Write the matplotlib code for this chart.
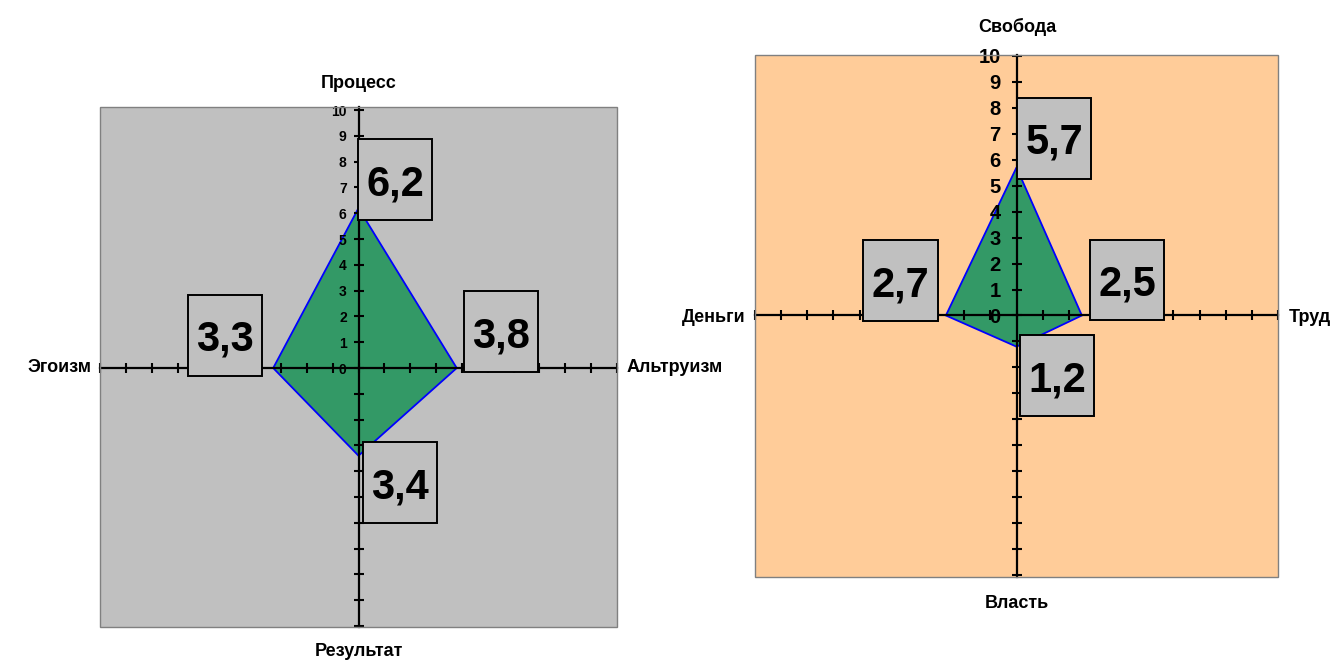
import matplotlib
matplotlib.use("Agg")
import matplotlib.pyplot as plt
from matplotlib.patches import Polygon, Rectangle
from matplotlib.ticker import FixedLocator, FixedFormatter

plt.rcParams['font.family'] = ['Liberation Sans', 'DejaVu Sans']

# ---- data ----
left_axes_names = ["Процесс", "Альтруизм", "Результат", "Эгоизм"]   # up, right, down, left
left_values = [6.2, 3.8, 3.4, 3.3]
left_labels = ["6,2", "3,8", "3,4", "3,3"]

right_axes_names = ["Свобода", "Труд", "Власть", "Деньги"]        # up, right, down, left
right_values = [5.7, 2.5, 1.2, 2.7]
right_labels = ["5,7", "2,5", "1,2", "2,7"]

tick_values = list(range(-10, 11))
tick_labels = [str(v) if v >= 0 else "" for v in tick_values]

W, H = 1344, 662
fig = plt.figure(figsize=(W / 100, H / 100), dpi=100)
fig.patch.set_facecolor("white")


def px_axes(x0, x1, ytop, ybot):
    return [x0 / W, (H - ybot) / H, (x1 - x0) / W, (ybot - ytop) / H]


def draw_chart(rect, ylim, bg, values, labels, names, label_offsets,
               tick_fs, tick_pad, title_pos, scale):
    ax = fig.add_axes(rect)
    ax.set_xlim(-10, 10)
    ax.set_ylim(*ylim)
    ax.set_facecolor(bg)
    for s in ["top", "right"]:
        ax.spines[s].set_visible(False)
    ax.spines["left"].set_position("zero")
    ax.spines["bottom"].set_position("zero")
    for s in ["left", "bottom"]:
        ax.spines[s].set_linewidth(1.6)
        ax.spines[s].set_color("black")
        ax.spines[s].set_zorder(3)
    ax.xaxis.set_zorder(3)
    ax.yaxis.set_zorder(3)
    # plot area border
    ax.add_patch(Rectangle((0, 0), 1, 1, transform=ax.transAxes, fill=False,
                           edgecolor="#808080", linewidth=1.0, zorder=4,
                           clip_on=False))
    ax.xaxis.set_major_locator(FixedLocator(tick_values))
    ax.xaxis.set_major_formatter(FixedFormatter([""] * len(tick_values)))
    ax.yaxis.set_major_locator(FixedLocator(tick_values))
    ax.yaxis.set_major_formatter(FixedFormatter(tick_labels))
    ax.tick_params(axis="both", direction="inout", length=7, width=1.5,
                   color="black")
    ax.tick_params(axis="y", labelsize=tick_fs, pad=tick_pad)
    for t in ax.get_yticklabels():
        t.set_fontweight("bold")

    up, right, down, left = values
    verts = [(0, up), (right, 0), (0, -down), (-left, 0)]
    ax.add_patch(Polygon(verts, closed=True, facecolor="#339966",
                         edgecolor="#0000FF", linewidth=1.3, zorder=1))

    bw, bh = 74 / scale, 81 / scale
    for (vx, vy), lab, (dx, dy) in zip(verts, labels, label_offsets):
        cx, cy = vx + dx / scale, vy + dy / scale
        ax.add_patch(Rectangle((cx - bw / 2, cy - bh / 2), bw, bh,
                               facecolor="#C0C0C0", edgecolor="black",
                               linewidth=1.4, zorder=5, clip_on=False))
        ax.text(cx, cy, lab, ha="center", va="center_baseline",
                fontsize=30, fontweight="bold", zorder=6)

    (tx, ty), (rx, ry), (bx, by), (lx, ly) = title_pos
    kw = dict(fontsize=13, fontweight="bold")
    fig.text(tx / W, 1 - ty / H, names[0], ha="center", va="center", **kw)
    fig.text(rx / W, 1 - ry / H, names[1], ha="left", va="center", **kw)
    fig.text(bx / W, 1 - by / H, names[2], ha="center", va="center", **kw)
    fig.text(lx / W, 1 - ly / H, names[3], ha="right", va="center", **kw)
    return ax


draw_chart(px_axes(100, 617, 107, 627), (-10.04, 10.12), "#C0C0C0",
           left_values, left_labels, left_axes_names,
           [(36.5, 28.5), (44.5, 36.5), (41, -27), (-48, 33)],
           10, 5.0, [(359, 83), (627, 368), (359, 651), (91, 368)], 25.8)

draw_chart(px_axes(755, 1278, 55, 577), (-10.07, 10.03), "#FFCC99",
           right_values, right_labels, right_axes_names,
           [(37.5, 29), (45, 35.5), (40.5, -29), (-45, 35)],
           14.5, 8.0, [(1017, 27), (1289, 317), (1017, 604), (745, 317)], 26.0)

fig.savefig("out.png", dpi=100)
